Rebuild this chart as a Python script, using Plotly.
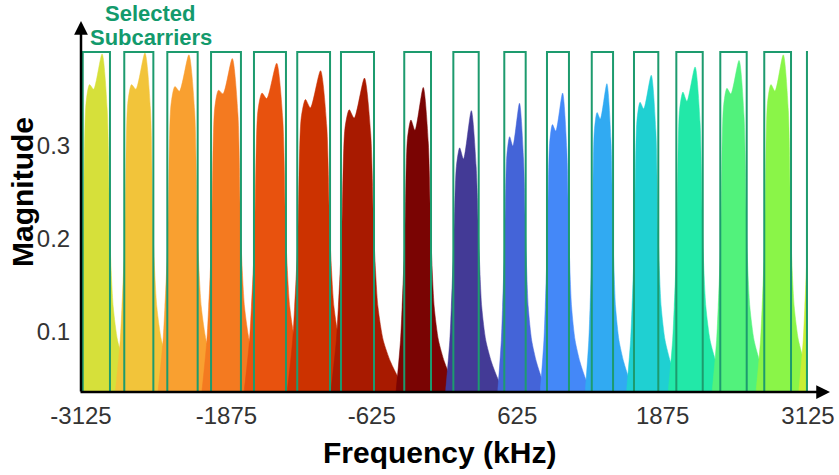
import plotly.graph_objects as go

# Band edges (kHz) of each subcarrier; the last one runs past the right edge of the axis
band_lo = [-3110, -2753, -2383, -2007, -1638, -1266, -890, -346, 76, 514,
           881, 1266, 1629, 1993, 2371, 2749, 3116]
band_hi = [-2876, -2503, -2122, -1750, -1363, -984, -606, -116, 294, 698,
           1070, 1449, 1838, 2220, 2598, 2979, 3346]

# Magnitude at the left shoulder, the notch and the main peak of each subcarrier
shoulder_mag = [0.366, 0.366, 0.364, 0.360, 0.357, 0.350, 0.339, 0.328, 0.298,
                0.310, 0.323, 0.336, 0.347, 0.358, 0.362, 0.366, 0.366]
notch_mag = [0.361, 0.361, 0.359, 0.356, 0.351, 0.341, 0.330, 0.317, 0.286,
             0.300, 0.316, 0.329, 0.340, 0.348, 0.356, 0.359, 0.361]
peak_mag = [0.399, 0.400, 0.398, 0.394, 0.389, 0.381, 0.373, 0.363, 0.338,
            0.346, 0.357, 0.367, 0.376, 0.385, 0.392, 0.398, 0.400]

fill_colors = ["#d6e03a", "#f2c43a", "#f9a030", "#f47a20", "#e8520e", "#cc3200",
               "#a81a00", "#7a0403", "#433a96", "#4464d8", "#4488f8", "#31aaf2",
               "#1fd0d2", "#22e8a8", "#52f27c", "#8af548", "#c7ef34"]

# Common skirt of every subcarrier spectrum: position as a fraction of the band
# width (0 = lower edge, 1 = upper edge) and magnitude there
left_skirt_pos = [-0.45, -0.30, -0.14, -0.08, 0.02]
left_skirt_mag = [0.0, 0.038, 0.091, 0.127, 0.200]
right_skirt_pos = [1.00, 1.12, 1.28, 1.50, 1.72, 2.00, 2.30]
right_skirt_mag = [0.199, 0.127, 0.091, 0.068, 0.052, 0.035, 0.0]
# Positions of the shoulder, notch and peak within the band
shoulder_pos, notch_pos, peak_pos = 0.25, 0.40, 0.71
# Points on the steep flanks just outside the shoulder and the peak
left_flank_pos, left_flank_drop = 0.12, 0.020
right_flank_pos, right_flank_drop = 0.90, 0.060

tick_vals_x = [-3125, -1875, -625, 625, 1875, 3125]
tick_vals_y = [0.1, 0.2, 0.3]

box_top = 0.401
y_min, y_max = 0.0355, 0.4301
x_min, x_max = -3125, 3125

fig = go.Figure()

for i in range(len(band_lo)):
    lo, hi = band_lo[i], band_hi[i]
    w = hi - lo
    pos = (left_skirt_pos + [left_flank_pos, shoulder_pos, notch_pos, peak_pos, right_flank_pos]
           + right_skirt_pos)
    mag = (left_skirt_mag
           + [shoulder_mag[i] - left_flank_drop, shoulder_mag[i], notch_mag[i],
              peak_mag[i], peak_mag[i] - right_flank_drop]
           + right_skirt_mag)
    fx = [lo + p * w for p in pos]
    fig.add_trace(go.Scatter(
        x=fx, y=mag, mode="lines", fill="tozeroy",
        fillcolor=fill_colors[i],
        line=dict(color=fill_colors[i], width=0.5, shape="spline", smoothing=0.7),
        hoverinfo="skip", showlegend=False,
    ))

# Selection windows around each subcarrier
box_color = "#1d9b6e"
for lo, hi in zip(band_lo, band_hi):
    fig.add_shape(type="rect", xref="x", yref="y", x0=lo, x1=hi, y0=0, y1=box_top,
                  line=dict(color=box_color, width=2), fillcolor="rgba(0,0,0,0)")

W, H = 839, 475
ml, mr, mt, mb = 81, 31, 25, 83
pw, ph = W - ml - mr, H - mt - mb


def px_x(p):
    return (p - ml) / pw


def px_y(p):
    return (H - mb - p) / ph


label_font = dict(family="Arial, Liberation Sans", size=22, color="#139a6c")
title_font = dict(family="Arial, Liberation Sans", size=30, color="black")

annotations = [
    # axis arrows
    dict(x=x_min, y=px_y(21), xref="x", yref="paper", ax=0, ay=372, axref="pixel",
         ayref="pixel", text="", showarrow=True, arrowhead=2, arrowsize=1.1,
         arrowwidth=2.5, arrowcolor="black"),
    dict(x=px_x(830), y=0, xref="paper", yref="paper", ax=-751, ay=0, text="",
         showarrow=True, arrowhead=2, arrowsize=1.1, arrowwidth=2.5,
         arrowcolor="black"),
    dict(x=px_x(150), y=px_y(14), xref="paper", yref="paper",
         text="<b>Selected</b>", showarrow=False,
         xanchor="center", yanchor="middle", font=label_font),
    dict(x=px_x(151), y=px_y(37), xref="paper", yref="paper",
         text="<b>Subcarriers</b>", showarrow=False,
         xanchor="center", yanchor="middle", font=label_font),
    dict(x=px_x(439), y=px_y(453), xref="paper", yref="paper",
         text="<b>Frequency (kHz)</b>", showarrow=False,
         xanchor="center", yanchor="middle", font=title_font),
    dict(x=px_x(23), y=px_y(192), xref="paper", yref="paper",
         text="<b>Magnitude</b>", showarrow=False, textangle=-90,
         xanchor="center", yanchor="middle", font=title_font),
]

fig.update_layout(
    width=W, height=H,
    margin=dict(l=ml, r=mr, t=mt, b=mb, autoexpand=False),
    paper_bgcolor="white", plot_bgcolor="white",
    showlegend=False,
    annotations=annotations,
    xaxis=dict(range=[x_min, x_max], tickvals=tick_vals_x,
               ticktext=[str(v) for v in tick_vals_x],
               showgrid=False, zeroline=False, showline=False, automargin=False,
               ticks="outside", ticklen=2, tickcolor="rgba(0,0,0,0)",
               tickfont=dict(family="Arial, Liberation Sans", size=24, color="#333333")),
    yaxis=dict(range=[y_min, y_max], tickvals=tick_vals_y,
               ticktext=[f"{v:.1f}" for v in tick_vals_y],
               showgrid=False, zeroline=False, showline=False, automargin=False,
               ticks="outside", ticklen=5, tickcolor="rgba(0,0,0,0)",
               tickfont=dict(family="Arial, Liberation Sans", size=24, color="#333333")),
)

fig.write_html("out.html")
